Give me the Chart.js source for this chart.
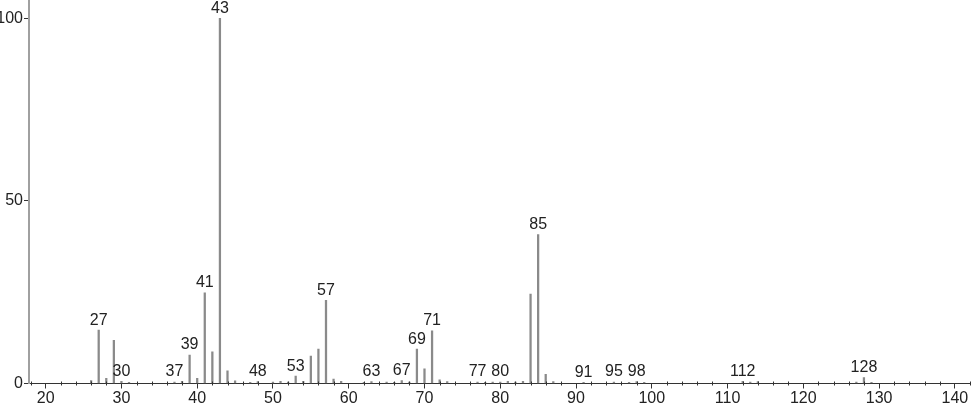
<!DOCTYPE html>
<html>
<head>
<meta charset="utf-8">
<script src="https://cdn.jsdelivr.net/npm/chart.js@4.4.1/dist/chart.umd.min.js"></script>
<style>
  html, body { margin: 0; padding: 0; background: #fff; }
  #wrap { width: 974px; height: 406px; }
</style>
</head>
<body>
<div id="wrap"><canvas id="spectrum"></canvas></div>
<script>
// ================= DATA =================
const mz = [
  26, 27, 28, 29, 30, 31, 37, 38, 39, 40, 41, 42, 43, 44, 45, 47, 48,
  50, 51, 52, 53, 54, 55, 56, 57, 58, 59, 62, 63, 65, 66, 67, 68, 69,
  70, 71, 72, 73, 77, 78, 79, 80, 81, 82, 83, 84, 85, 86, 87, 91, 95,
  97, 98, 99, 112, 113, 114, 127, 128, 129,
];
const intensity = [
  0.8, 14.6, 1.4, 11.8, 0.6, 0.3, 0.4, 0.6, 7.8, 1.4, 24.8, 8.7, 100, 3.5, 0.7, 0.3, 0.5,
  0.4, 0.6, 0.4, 2.0, 0.6, 7.5, 9.4, 22.8, 1.2, 0.6, 0.3, 0.5, 0.4, 0.3, 0.8, 0.4, 9.4,
  4.0, 14.4, 1.0, 0.5, 0.4, 0.3, 0.4, 0.4, 0.6, 0.4, 0.6, 24.5, 40.8, 2.5, 0.5, 0.3, 0.4,
  0.3, 0.5, 0.3, 0.6, 0.4, 0.5, 0.4, 1.6, 0.3,
];
// peaks that get their m/z written above them
const labelledPeaks = [
  27, 30, 37, 39, 41, 43, 48, 53, 57, 63, 67, 69, 71, 77, 80, 85, 91, 95, 98, 112, 128,
];
const xMajorTicks = [20, 30, 40, 50, 60, 70, 80, 90, 100, 110, 120, 130, 140];
const yTicks = [0, 50, 100];

const FONT = "'Liberation Sans', Arial, sans-serif";

// ================= PLUGINS =================
// small ticks every 2 units on the m/z axis
const minorTicks = {
  id: "minorTicks",
  afterDraw(chart) {
    const xs = chart.scales.x;
    const y0 = chart.scales.y.getPixelForValue(0);
    const c = chart.ctx;
    c.save();
    c.strokeStyle = "#333";
    c.lineWidth = 1;
    for (let v = Math.ceil(xs.min / 2) * 2; v <= xs.max; v += 2) {
      if (v % 10 === 0) continue;
      const px = Math.round(xs.getPixelForValue(v)) + 0.5;
      c.beginPath();
      c.moveTo(px, y0 - 2);
      c.lineTo(px, y0 + 2);
      c.stroke();
    }
    c.restore();
  },
};

// m/z labels above selected peaks
const peakLabels = {
  id: "peakLabels",
  afterDatasetsDraw(chart) {
    const meta = chart.getDatasetMeta(0);
    const c = chart.ctx;
    c.save();
    c.font = "16px " + FONT;
    c.fillStyle = "#222";
    c.textAlign = "center";
    c.textBaseline = "bottom";
    labelledPeaks.forEach((m) => {
      const i = mz.indexOf(m);
      if (i < 0) return;
      const bar = meta.data[i];
      c.fillText(String(m), bar.x, bar.y - 2);
    });
    c.restore();
  },
};

// ================= CHART =================
new Chart(document.getElementById("spectrum"), {
  type: "bar",
  data: {
    datasets: [
      {
        data: mz.map((m, i) => ({ x: m, y: intensity[i] })),
        backgroundColor: "#8a8a8a",
        barThickness: 1.6,
        borderWidth: 0,
      },
    ],
  },
  options: {
    responsive: true,
    maintainAspectRatio: false,
    animation: false,
    layout: { padding: { top: 0, right: 4, bottom: 0, left: 0 } },
    plugins: {
      legend: { display: false },
      tooltip: { enabled: false },
    },
    scales: {
      x: {
        type: "linear",
        offset: false,
        min: 17.8,
        max: 142,
        afterBuildTicks: (s) => {
          s.ticks = xMajorTicks.map((v) => ({ value: v }));
        },
        afterFit: (s) => {
          s.height = 22.5;
          s.paddingLeft = 0;
          s.paddingRight = 0;
        },
        grid: {
          offset: false,
          drawOnChartArea: false,
          drawTicks: true,
          tickLength: 5,
          color: "#333",
        },
        border: { color: "#333", width: 1 },
        ticks: {
          color: "#222",
          font: { family: FONT, size: 16 },
          padding: 0,
          maxRotation: 0,
          autoSkip: false,
        },
      },
      y: {
        min: 0,
        max: 105,
        afterBuildTicks: (s) => {
          s.ticks = yTicks.map((v) => ({ value: v }));
        },
        afterFit: (s) => {
          s.width = 29;
          s.paddingTop = 0;
          s.paddingBottom = 0;
        },
        grid: {
          drawOnChartArea: false,
          drawTicks: true,
          tickLength: 5,
          color: "#333",
        },
        border: { color: "#a0a0a0", width: 2 },
        ticks: {
          color: "#222",
          font: { family: FONT, size: 16 },
          padding: 1,
        },
      },
    },
  },
  plugins: [minorTicks, peakLabels],
});
</script>
</body>
</html>
